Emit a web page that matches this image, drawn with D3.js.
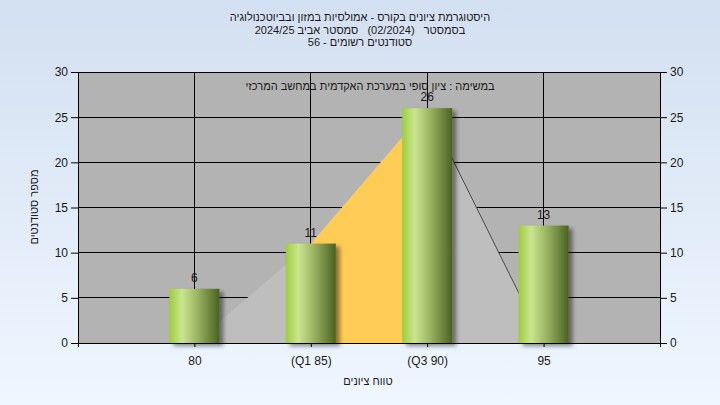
<!DOCTYPE html>
<html>
<head>
<meta charset="utf-8">
<script src="https://cdn.jsdelivr.net/npm/d3@7"></script>
<style>
  body { margin: 0; }
  svg text { font-family: "Liberation Sans", Arial, sans-serif; font-size: 12px; fill: #1a1a1a; }
  svg text.heb { font-size: 11px; white-space: pre; }
</style>
</head>
<body>
<svg id="chart" width="720" height="405"></svg>
<script>
// DATA
const categories   = ['80', '(Q1 85)', '(Q3 90)', '95']
const counts       = [6, 11, 26, 13]
const curveValues  = [0, 11, 26, 0]          // frequency polygon behind the bars
const yTicks       = [0, 5, 10, 15, 20, 25, 30]
const titleLines   = [
    'היסטוגרמת ציונים בקורס - אמולסיות במזון ובביוטכנולוגיה',
    'בסמסטר   (02/2024)   סמסטר אביב 2024/25',
    'סטודנטים רשומים - 56'
]
const subTitle     = 'במשימה : ציון סופי במערכת האקדמית במחשב המרכזי'
const xTitle       = 'טווח ציונים'
const yTitle       = 'מספר סטודנטים'

// LAYOUT
const plot = { left: 78, right: 660, top: 72, bottom: 343 }
const svg = d3.select('#chart')

const x = d3.scalePoint().domain(categories).range([plot.left, plot.right]).padding(1)
const y = d3.scaleLinear().domain([0, 30]).range([plot.bottom, plot.top])
const barW = 50

// defs: background, bar gradient, shadow
const defs = svg.append('defs')
const bg = defs.append('linearGradient').attr('id', 'bg').attr('x1', 0).attr('x2', 0).attr('y1', 0).attr('y2', 1)
bg.append('stop').attr('offset', '0%').attr('stop-color', '#d3e0f1')
bg.append('stop').attr('offset', '100%').attr('stop-color', '#eff6ff')

const barGrad = defs.append('linearGradient').attr('id', 'barGrad')
;[['0%', '#9dcd3c'], ['25%', '#cae590'], ['55%', '#9cb564'], ['100%', '#4a6221']].forEach(([o, c]) =>
    barGrad.append('stop').attr('offset', o).attr('stop-color', c))

const shadow = defs.append('filter').attr('id', 'shadow').attr('x', '-20%').attr('y', '-20%').attr('width', '150%').attr('height', '150%')
shadow.append('feDropShadow').attr('dx', 4).attr('dy', 3).attr('stdDeviation', 2)
    .attr('flood-color', '#000').attr('flood-opacity', 0.45)

svg.append('rect').attr('width', 720).attr('height', 405).attr('fill', 'url(#bg)')

// plot background
svg.append('rect')
    .attr('x', plot.left).attr('y', plot.top)
    .attr('width', plot.right - plot.left).attr('height', plot.bottom - plot.top)
    .attr('fill', '#b3b3b3')

// grid lines
svg.append('g').selectAll('line').data(yTicks.slice(1)).join('line')
    .attr('x1', plot.left).attr('x2', plot.right)
    .attr('y1', d => y(d)).attr('y2', d => y(d))
    .attr('stroke', '#000').attr('stroke-width', 1).attr('shape-rendering', 'crispEdges')
svg.append('g').selectAll('line').data(categories).join('line')
    .attr('x1', d => x(d)).attr('x2', d => x(d))
    .attr('y1', plot.top).attr('y2', plot.bottom)
    .attr('stroke', '#000').attr('stroke-width', 1).attr('shape-rendering', 'crispEdges')

// frequency polygon: light grey outside the quartiles, yellow between Q1 and Q3
const pts = categories.map((c, i) => [x(c), y(curveValues[i])])
const area = d3.area().x(d => d[0]).y0(y(0)).y1(d => d[1])
svg.append('path').attr('d', area(pts)).attr('fill', '#bebebe')
svg.append('path').attr('d', area(pts.slice(1, 3))).attr('fill', '#ffcc55')
svg.append('path').attr('d', d3.line()(pts.slice(2, 4)))
    .attr('stroke', '#4a4a4a').attr('stroke-width', 1).attr('fill', 'none')

// bars
svg.append('g').selectAll('rect').data(counts).join('rect')
    .attr('x', (d, i) => x(categories[i]) - barW / 2)
    .attr('y', d => y(d))
    .attr('width', barW)
    .attr('height', d => y(0) - y(d))
    .attr('fill', 'url(#barGrad)')
    .attr('filter', 'url(#shadow)')

// value labels
svg.append('g').selectAll('text').data(counts).join('text')
    .attr('x', (d, i) => x(categories[i]))
    .attr('y', d => y(d) - 7)
    .attr('text-anchor', 'middle')
    .text(d => d)

// subtitle inside plot
svg.append('text').attr('class', 'heb').attr('x', 370).attr('y', 90)
    .attr('text-anchor', 'middle').attr('direction', 'rtl')
    .text(subTitle)

// frame
svg.append('rect')
    .attr('x', plot.left).attr('y', plot.top)
    .attr('width', plot.right - plot.left).attr('height', plot.bottom - plot.top)
    .attr('fill', 'none').attr('stroke', '#000').attr('shape-rendering', 'crispEdges')

// axes
const yLeft = svg.append('g').attr('transform', `translate(${plot.left},0)`)
    .call(d3.axisLeft(y).tickValues(yTicks).tickSize(7).tickPadding(3))
const yRight = svg.append('g').attr('transform', `translate(${plot.right},0)`)
    .call(d3.axisRight(y).tickValues(yTicks).tickSize(7).tickPadding(3))
const xAxis = svg.append('g').attr('transform', `translate(0,${plot.bottom})`)
    .call(d3.axisBottom(x).tickSize(4).tickPadding(9))
;[yLeft, yRight, xAxis].forEach(g => {
    g.select('.domain').attr('stroke', '#000')
    g.selectAll('.tick line').attr('stroke', '#000')
    g.selectAll('text').attr('font-family', null).attr('font-size', null).attr('fill', null)
})
xAxis.selectAll('text').attr('direction', 'ltr')

// titles
svg.append('g').selectAll('text').data(titleLines).join('text')
    .attr('class', 'heb')
    .attr('x', 360).attr('y', (d, i) => [21, 34, 46][i])
    .attr('text-anchor', 'middle').attr('direction', 'rtl')
    .text(d => d)

svg.append('text').attr('class', 'heb').attr('x', 368).attr('y', 385)
    .attr('text-anchor', 'middle').attr('direction', 'rtl')
    .text(xTitle)

svg.append('text').attr('class', 'heb')
    .attr('transform', 'translate(38,207) rotate(-90)')
    .attr('text-anchor', 'middle').attr('direction', 'rtl')
    .text(yTitle)
</script>
</body>
</html>
